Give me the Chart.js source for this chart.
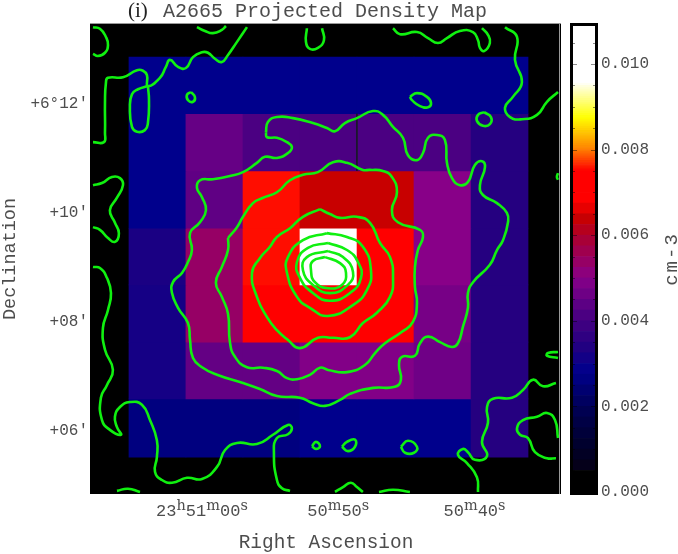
<!DOCTYPE html>
<html>
<head>
<meta charset="utf-8">
<script src="https://cdn.jsdelivr.net/npm/chart.js@4"></script>
<style>
  body { margin: 0; background: #fff; }
  canvas { position: absolute; top: 0; }
  #mapChart { left: 0; }
  #barChart { left: 565px; }
</style>
</head>
<body>
<canvas id="mapChart" width="565" height="554"></canvas>
<canvas id="barChart" width="113" height="554"></canvas>
<script>
// axes: RA in seconds past 23h50m, Dec in arcmin past +6 deg
const raTicks = [60, 50, 40]
const raTickLabels = ['23h51m00s', '50m50s', '50m40s']
const decTicks = [12, 10, 8, 6]
const decTickLabels = ['+6°12′', '+10′', '+08′', '+06′']
const densityTicks = [0, 0.002, 0.004, 0.006, 0.008, 0.01]

// density map bins (cm-3), rows from north to south, columns from east to west
const binRa = [63.27, 59.09, 54.90, 50.72, 46.53, 42.35, 38.16]
const binDecEdges = [12.86, 11.82, 10.77, 9.72, 8.68, 7.63, 6.59, 5.52]
const density = [
  [0.0028, 0.0028, 0.0028, 0.0028, 0.0028, 0.0028, 0.0028],
  [0.0028, 0.00452, 0.00413, 0.00413, 0.00413, 0.00413, 0.00345],
  [0.0028, 0.00443, 0.00755, 0.0064, 0.0064, 0.005, 0.00345],
  [0.00325, 0.00538, 0.00755, 0.0100, 0.0072, 0.005, 0.00345],
  [0.00317, 0.00538, 0.0072, 0.0072, 0.0072, 0.00476, 0.00345],
  [0.00317, 0.00449, 0.00449, 0.00491, 0.00491, 0.00464, 0.00345],
  [0.0026, 0.0026, 0.0026, 0.0028, 0.0028, 0.0028, 0.00345]
]

// colour table
const cmapValues = [0, 0.00055, 0.0006, 0.0011, 0.00196, 0.0028, 0.00343, 0.00413, 0.005, 0.00593, 0.0064, 0.0068, 0.0075, 0.00804, 0.00874, 0.0095, 0.00955, 0.011]
const cmapColors = [[0,0,0],[0,0,0],[5,0,25],[0,0,45],[0,0,85],[0,0,140],[36,0,128],[75,0,130],[136,0,136],[170,0,50],[200,0,0],[255,0,0],[255,0,0],[255,136,0],[255,255,0],[255,255,230],[255,255,255],[255,255,255]]

// X-ray contours as [ra, dec]
const contours = [
  [[68.00,13.41],[67.49,13.38],[67.05,13.23],[66.90,13.08],[67.12,12.94],[67.64,12.88],[68.00,12.92]],
  [[60.37,13.41],[59.78,13.34],[59.20,13.30],[58.54,13.36],[58.24,13.43]],
  [[56.70,13.41],[57.43,13.14],[58.09,12.90],[58.54,12.77],[59.05,12.83],[59.56,12.94],[60.00,12.95],[60.66,12.86],[61.18,12.66],[61.76,12.68],[62.35,12.81],[62.65,12.68],[63.09,12.48],[63.97,12.33],[64.04,12.53],[64.33,12.61],[64.77,12.62],[65.80,12.49],[66.90,12.48],[67.05,12.39],[67.12,12.02],[67.12,11.47],[67.20,11.30],[68.00,11.30]],
  [[63.97,12.33],[64.70,12.27],[65.14,12.18],[65.29,11.94],[65.14,11.58],[64.77,11.49],[64.19,11.52],[63.97,11.65],[63.89,12.07],[63.97,12.33]],
  [[60.81,12.22],[60.52,12.13],[60.66,12.04],[61.03,12.07],[61.10,12.17],[60.81,12.22]],
  [[52.30,13.39],[52.37,13.14],[52.08,13.01],[51.49,13.03],[51.05,13.17],[51.19,13.39]],
  [[45.98,13.39],[45.47,13.28],[44.22,13.32],[43.41,13.21],[42.68,13.12],[42.02,13.21],[41.07,13.34],[40.11,13.32],[39.74,13.17],[39.60,13.03],[39.30,12.97],[38.87,13.12],[39.01,13.27],[39.45,13.39]],
  [[37.76,13.41],[36.88,13.23],[37.03,12.81],[36.52,12.40],[37.18,12.13],[37.76,11.93],[37.39,11.76],[36.52,11.72],[35.41,11.80],[34.68,12.04],[33.87,12.22]],
  [[44.74,12.13],[44.22,12.20],[43.49,12.13],[43.19,12.02],[43.41,11.94],[44.00,11.96],[44.59,12.07],[44.74,12.13]],
  [[39.30,11.85],[38.79,11.76],[38.87,11.63],[39.38,11.60],[39.82,11.69],[39.74,11.80],[39.30,11.85]],
  [[33.87,10.73],[33.95,10.66],[33.87,10.61]],
  [[68.00,10.51],[67.34,10.55],[66.61,10.66],[66.02,10.64],[65.80,10.51],[66.24,10.28],[66.76,10.05],[66.39,9.82],[66.10,9.63],[66.39,9.47],[66.90,9.54],[67.49,9.69],[68.00,9.74]],
  [[55.31,11.47],[55.16,11.67],[54.50,11.76],[53.32,11.74],[51.86,11.65],[50.83,11.56],[50.24,11.50],[49.51,11.65],[48.63,11.74],[47.45,11.87],[46.72,11.80],[45.98,11.58],[45.25,11.38],[44.88,11.06],[44.22,10.97],[43.78,11.10],[43.41,11.38],[42.75,11.43],[42.17,11.34],[42.02,10.92],[41.65,10.64],[41.07,10.51],[40.48,10.57],[39.97,10.88],[39.45,10.95],[39.23,10.84],[39.60,10.51],[39.38,10.33],[38.35,10.18],[37.62,10.00],[37.54,9.83],[37.91,9.50],[38.35,9.32],[38.87,9.05],[40.11,8.73],[40.48,8.53],[40.48,8.26],[40.85,7.91],[41.21,7.61],[41.65,7.54],[42.53,7.63],[43.41,7.73],[44.00,7.61],[44.37,7.38],[45.32,7.36],[45.54,7.21],[45.40,6.94],[45.84,6.81],[47.45,6.79],[49.14,6.68],[49.87,6.57],[50.97,6.46],[51.86,6.51],[52.81,6.61],[54.50,6.64],[55.75,6.77],[56.99,6.88],[58.90,7.03],[60.00,7.17],[60.66,7.34],[60.88,7.67],[61.03,7.98],[61.76,8.26],[62.20,8.53],[62.13,8.73],[61.47,8.90],[61.03,9.10],[60.74,9.32],[60.88,9.63],[60.15,9.83],[59.71,10.05],[60.00,10.29],[60.37,10.46],[60.15,10.60],[59.20,10.62],[57.95,10.68],[56.99,10.75],[55.97,10.92],[55.38,11.03],[54.50,11.01],[53.69,11.10],[53.40,11.21],[53.76,11.30],[54.50,11.38],[55.23,11.39],[55.31,11.47]],
  [[58.09,9.54],[57.43,9.74],[56.99,9.93],[56.26,10.18],[55.60,10.27],[54.50,10.38],[53.54,10.60],[52.59,10.70],[51.49,10.75],[50.39,10.93],[49.36,10.92],[48.19,10.79],[47.67,10.79],[46.72,10.77],[46.06,10.66],[45.69,10.38],[46.06,10.05],[45.62,9.83],[44.00,9.69],[43.78,9.56],[44.15,9.32],[44.37,9.01],[44.37,8.64],[44.22,8.35],[44.52,8.00],[45.32,7.82],[46.57,7.61],[47.30,7.43],[48.04,7.21],[49.36,7.08],[50.75,7.12],[51.34,7.16],[52.08,7.03],[53.03,6.95],[53.76,6.97],[54.50,7.10],[55.53,7.16],[56.70,7.17],[57.58,7.36],[57.95,7.63],[58.09,8.15],[58.54,8.46],[58.98,8.72],[58.54,9.01],[58.09,9.32],[58.09,9.54]],
  [[51.34,10.07],[50.61,9.98],[49.87,9.91],[48.63,9.93],[47.67,9.82],[46.94,9.45],[46.20,9.19],[45.98,8.82],[46.20,8.46],[47.16,8.17],[48.19,7.98],[49.14,7.72],[50.39,7.71],[51.49,7.71],[52.81,7.52],[53.69,7.67],[54.50,7.85],[55.23,8.09],[55.97,8.46],[56.33,8.90],[55.75,9.17],[55.01,9.38],[54.50,9.56],[53.54,9.72],[52.59,9.93],[51.34,10.07]],
  [[50.83,9.63],[49.36,9.56],[48.19,9.38],[47.60,8.95],[47.89,8.59],[48.92,8.31],[50.75,8.11],[52.08,8.26],[53.03,8.46],[53.76,8.90],[53.69,9.19],[52.59,9.50],[50.83,9.63]],
  [[50.75,9.45],[49.36,9.32],[48.55,9.10],[48.33,8.81],[49.14,8.53],[50.61,8.39],[51.86,8.53],[52.81,8.81],[53.03,9.10],[52.22,9.36],[50.75,9.45]],
  [[50.75,9.30],[49.65,9.19],[48.92,8.92],[49.29,8.68],[50.61,8.53],[51.86,8.68],[52.59,8.95],[52.30,9.19],[50.75,9.30]],
  [[50.97,9.19],[49.87,9.08],[49.43,8.90],[49.73,8.68],[50.75,8.62],[51.71,8.73],[52.00,8.95],[51.86,9.12],[50.97,9.19]],
  [[68.00,9.01],[67.49,8.99],[66.98,8.81],[66.68,8.53],[66.90,8.22],[67.27,7.89],[67.12,7.49],[66.54,7.12],[66.98,6.84],[67.42,6.61],[67.34,6.20],[66.76,6.02],[65.95,5.93],[66.24,6.07],[66.39,6.26],[66.02,6.44],[65.29,6.53],[64.41,6.48],[63.82,6.20],[63.31,5.83],[63.31,5.52],[63.45,5.25],[62.94,5.10],[62.20,5.05],[61.10,5.14],[60.00,5.12],[58.90,5.34],[58.31,5.65],[57.43,5.78],[55.97,5.76],[54.79,5.93],[53.69,6.11],[53.40,6.05],[53.69,5.94],[54.50,5.87],[54.72,5.60],[54.50,5.10],[54.13,4.95],[53.54,4.90]],
  [[66.24,4.90],[65.43,4.94],[64.55,4.88]],
  [[50.24,4.88],[49.65,4.97],[49.07,5.05],[48.63,4.97],[48.19,4.88]],
  [[47.01,4.88],[45.98,4.92],[44.74,4.88]],
  [[51.93,5.72],[51.64,5.80],[51.34,5.72],[51.64,5.67],[51.93,5.72]],
  [[49.73,5.71],[49.36,5.80],[48.77,5.84],[48.77,5.71],[49.29,5.63],[49.73,5.71]],
  [[45.40,5.71],[44.88,5.82],[44.22,5.71],[44.44,5.60],[45.10,5.60],[45.40,5.71]],
  [[39.74,4.88],[39.82,5.15],[40.55,5.41],[41.21,5.56],[40.85,5.67],[40.48,5.61],[39.97,5.47],[39.08,5.54],[39.45,5.80],[39.01,6.15],[39.08,6.44],[38.64,6.59],[37.25,6.61],[36.44,6.75],[35.71,6.94],[34.97,6.82],[34.02,6.88]],
  [[33.87,5.87],[34.09,6.20],[34.68,6.33],[35.41,6.26],[36.44,6.20],[36.88,6.05],[36.66,5.93],[36.07,5.87],[35.56,5.61],[34.68,5.50],[34.02,5.50]],
  [[33.87,7.45],[34.61,7.43],[34.68,7.38],[33.87,7.34]]
]
const seam = [[48.63, 11.82], [48.63, 10.77]]

const monoFont = '"Liberation Mono", monospace'
const textColor = '#4d4d4d'

function cmap(v) {
  let i = 0
  while (i < cmapValues.length - 2 && v > cmapValues[i + 1]) i++
  const t = Math.min(1, Math.max(0, (v - cmapValues[i]) / (cmapValues[i + 1] - cmapValues[i])))
  const c = cmapColors[i].map((a, k) => Math.round(a + (cmapColors[i + 1][k] - a) * t))
  return `rgb(${c[0]},${c[1]},${c[2]})`
}

const binDatasets = density.map((row, r) => ({
  type: 'bar',
  order: 2,
  grouped: false,
  barPercentage: 1,
  categoryPercentage: 1,
  borderWidth: 0,
  data: row.map((v, c) => ({ x: binRa[c], y: [binDecEdges[r + 1], binDecEdges[r]] })),
  backgroundColor: row.map(cmap)
}))

const contourDatasets = contours.map(line => ({
  type: 'line',
  order: 0,
  data: line.map(p => ({ x: p[0], y: p[1] })),
  borderColor: '#10f010',
  borderWidth: 2.6,
  tension: 0.5,
  pointRadius: 0
}))

const seamDataset = {
  type: 'line',
  order: 1,
  data: seam.map(p => ({ x: p[0], y: p[1] })),
  borderColor: '#1a1a2a',
  borderWidth: 1,
  pointRadius: 0
}

// RA labels carry their h/m/s as superscripts
function drawRaLabel(ctx, label, cx, baseline) {
  const parts = label.match(/\d+|[a-z]/g)
  const fontOf = p => /\d/.test(p) ? `17px ${monoFont}` : '14.5px "DejaVu Serif", serif'
  let width = 0
  parts.forEach(p => { ctx.font = fontOf(p); width += ctx.measureText(p).width })
  let x = cx - width / 2
  parts.forEach(p => {
    ctx.font = fontOf(p)
    ctx.fillText(p, x, /\d/.test(p) ? baseline : baseline - 6)
    x += ctx.measureText(p).width
  })
}

const mapDecor = {
  id: 'mapDecor',
  beforeDatasetsDraw(chart) {
    const { ctx, chartArea: a } = chart
    ctx.fillStyle = '#000'
    ctx.fillRect(a.left, a.top, a.right - a.left, a.bottom - a.top)
  },
  afterDraw(chart) {
    const { ctx, chartArea: a, scales } = chart
    ctx.save()
    ctx.strokeStyle = '#999'
    ctx.lineWidth = 1
    ctx.beginPath()
    ctx.moveTo(a.left, a.top + 0.5)
    ctx.lineTo(a.right, a.top + 0.5)
    ctx.moveTo(a.right - 1.5, a.top)
    ctx.lineTo(a.right - 1.5, a.bottom)
    ctx.stroke()

    ctx.fillStyle = textColor
    ctx.textAlign = 'left'
    ctx.textBaseline = 'alphabetic'
    scales.x.ticks.forEach((t, i) => {
      drawRaLabel(ctx, raTickLabels[i], scales.x.getPixelForValue(t.value), 516)
    })

    ctx.font = `20px ${monoFont}`
    ctx.fillText('A2665 Projected Density Map', 163, 17)
    ctx.fillStyle = '#222'
    ctx.font = '21px "Liberation Serif", serif'
    ctx.fillText('(i)', 128, 17)

    ctx.fillStyle = textColor
    ctx.font = `19.4px ${monoFont}`
    ctx.textAlign = 'center'
    ctx.fillText('Right Ascension', 326, 548)
    ctx.save()
    ctx.translate(15, 259)
    ctx.rotate(-Math.PI / 2)
    ctx.font = `18.5px ${monoFont}`
    ctx.fillText('Declination', 0, 0)
    ctx.restore()
    ctx.restore()
  }
}

new Chart(document.getElementById('mapChart'), {
  type: 'bar',
  data: { datasets: [...contourDatasets, seamDataset, ...binDatasets] },
  plugins: [mapDecor],
  options: {
    responsive: false,
    animation: false,
    layout: { padding: { top: 23, right: 4 } },
    plugins: { legend: { display: false }, title: { display: false }, tooltip: { enabled: false } },
    scales: {
      x: {
        type: 'linear',
        reverse: true,
        offset: false,
        min: 33.65,
        max: 68.22,
        grid: { display: false },
        border: { display: false },
        ticks: { display: false },
        afterBuildTicks: s => { s.ticks = raTicks.map(v => ({ value: v })) },
        afterFit: s => { s.height = 60 }
      },
      y: {
        type: 'linear',
        min: 4.843,
        max: 13.486,
        grid: { display: false, drawTicks: false },
        border: { display: false },
        afterBuildTicks: s => { s.ticks = decTicks.map(v => ({ value: v })) },
        ticks: {
          autoSkip: false,
          padding: 2,
          color: textColor,
          font: { family: 'Liberation Mono', size: 16 },
          callback: (v, i) => decTickLabels[i]
        },
        afterFit: s => { s.width = 90 }
      }
    }
  }
})

// colour bar
const bandEdges = []
for (let v = 0; v < 0.0075; v += 0.00025) bandEdges.push(v)
for (let v = 0.0075; v < 0.011; v += 0.00005) bandEdges.push(v)
bandEdges.push(0.011)

const bandDatasets = bandEdges.slice(0, -1).map((lo, i) => ({
  grouped: false,
  barPercentage: 1,
  categoryPercentage: 1,
  borderWidth: 0,
  data: [[lo, bandEdges[i + 1]]],
  backgroundColor: cmap(lo + (bandEdges[i + 1] - lo) / 2)
}))

const barTicks = []
for (let k = 0; k <= 21; k++) barTicks.push(k * 0.0005)

const barDecor = {
  id: 'barDecor',
  afterDraw(chart) {
    const { ctx, chartArea: a, scales } = chart
    ctx.save()
    ctx.strokeStyle = 'rgba(0,0,0,0.45)'
    ctx.lineWidth = 1
    barTicks.forEach((v, k) => {
      if (k === 0) return
      const y = Math.round(scales.y.getPixelForValue(v)) + 0.5
      const len = k % 4 === 0 ? 6 : 4
      ctx.beginPath()
      ctx.moveTo(a.left, y)
      ctx.lineTo(a.left + len, y)
      ctx.moveTo(a.right - len, y)
      ctx.lineTo(a.right, y)
      ctx.stroke()
    })
    ctx.strokeStyle = '#000'
    ctx.lineWidth = 3
    ctx.strokeRect(a.left + 0.5, a.top + 0.5, a.right - a.left - 1, a.bottom - a.top - 1)

    ctx.fillStyle = textColor
    ctx.font = `19px ${monoFont}`
    ctx.textAlign = 'center'
    ctx.translate(107, 259)
    ctx.rotate(-Math.PI / 2)
    ctx.letterSpacing = '2px'
    ctx.fillText('cm-3', 0, 5)
    ctx.restore()
  }
}

new Chart(document.getElementById('barChart'), {
  type: 'bar',
  data: { labels: ['density'], datasets: bandDatasets },
  plugins: [barDecor],
  options: {
    responsive: false,
    animation: false,
    layout: { padding: { left: 6, top: 24, bottom: 60 } },
    plugins: { legend: { display: false }, title: { display: false }, tooltip: { enabled: false } },
    scales: {
      x: { display: false },
      y: {
        type: 'linear',
        position: 'right',
        min: -0.00005,
        max: 0.010935,
        grid: { display: false, drawTicks: false },
        border: { display: false },
        afterBuildTicks: s => { s.ticks = densityTicks.map(v => ({ value: v })) },
        ticks: {
          autoSkip: false,
          padding: 4,
          color: textColor,
          font: { family: 'Liberation Mono', size: 16 },
          callback: v => v.toFixed(3)
        },
        afterFit: s => { s.width = 81 }
      }
    }
  }
})
</script>
</body>
</html>
